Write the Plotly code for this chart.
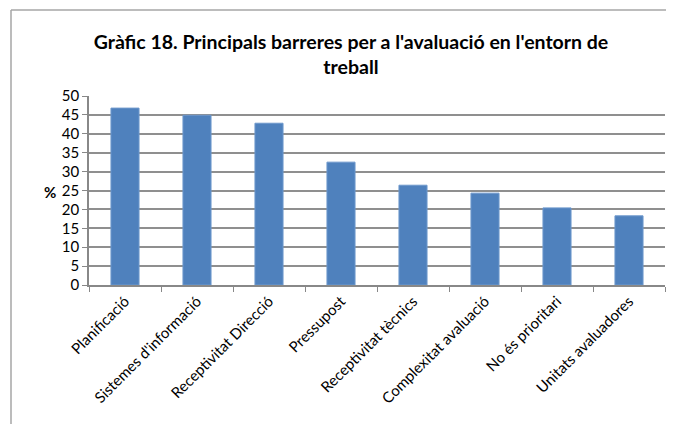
import plotly.graph_objects as go

categories = ["Planificació", "Sistemes d'informació", "Receptivitat Direcció", "Pressupost",
              "Receptivitat tècnics", "Complexitat avaluació", "No és prioritari", "Unitats avaluadores"]
values = [46.8, 44.9, 42.8, 32.5, 26.4, 24.3, 20.4, 18.3]
title_text = "Gràfic 18. Principals barreres per a l'avaluació en l'entorn de<br>treball"

OFF = 8  # page body margin offset
W, H = 674 - OFF, 424 - OFF
L, T = 89 - OFF, 96 - OFF
R = W - (665 - OFF)
B = H - (285 - OFF)
pw, ph = W - L - R, H - T - B

def px(x):
    return (x - OFF - L) / pw

def py(y):
    return (H - B - (y - OFF)) / ph

fig = go.Figure(go.Bar(
    x=categories, y=values,
    marker=dict(color="#4F81BD", line=dict(color="#6E98CC", width=1)),
    width=0.39,
))

frame = dict(color="#A6A6A6", width=1.5)
fig.update_layout(
    width=W, height=H,
    margin=dict(l=L, r=R, t=T, b=B, autoexpand=False),
    paper_bgcolor="white", plot_bgcolor="white",
    font=dict(family="Lato, Open Sans, sans-serif", color="#222"),
    showlegend=False,
    title=dict(text="<b>" + title_text + "</b>", xref="container", x=(351 - OFF) / W, xanchor="center",
               yref="container", y=1 - (49 - OFF) / H, yanchor="middle",
               font=dict(size=19.5, family="Lato, sans-serif", color="#000")),
    shapes=[
        dict(type="line", xref="paper", yref="paper",
             x0=px(11), x1=px(11), y0=py(440), y1=py(10), line=frame, layer="below"),
        dict(type="line", xref="paper", yref="paper",
             x0=px(11), x1=px(690), y0=py(10), y1=py(10), line=frame, layer="below"),
    ],
    annotations=[dict(text="<b>%</b>", xref="paper", yref="paper",
                      x=px(42), y=py(192), showarrow=False,
                      font=dict(size=15, color="#000"))],
)

fig.update_xaxes(
    automargin=False,
    showline=True, linecolor="#888", linewidth=1.5,
    ticks="outside", tickson="boundaries", ticklen=5, tickcolor="#888",
    tickangle=-45, tickfont=dict(size=15, color="#000"),
    showgrid=False,
)
fig.update_yaxes(
    automargin=False,
    range=[0, 50], dtick=5,
    showline=True, linecolor="#888", linewidth=1.5,
    ticks="outside", ticklen=5, tickcolor="#888",
    showgrid=True, gridcolor="#8F8F8F", gridwidth=1.5,
    tickfont=dict(size=15, color="#000"),
    zeroline=False,
)

fig.write_html("out.html")
